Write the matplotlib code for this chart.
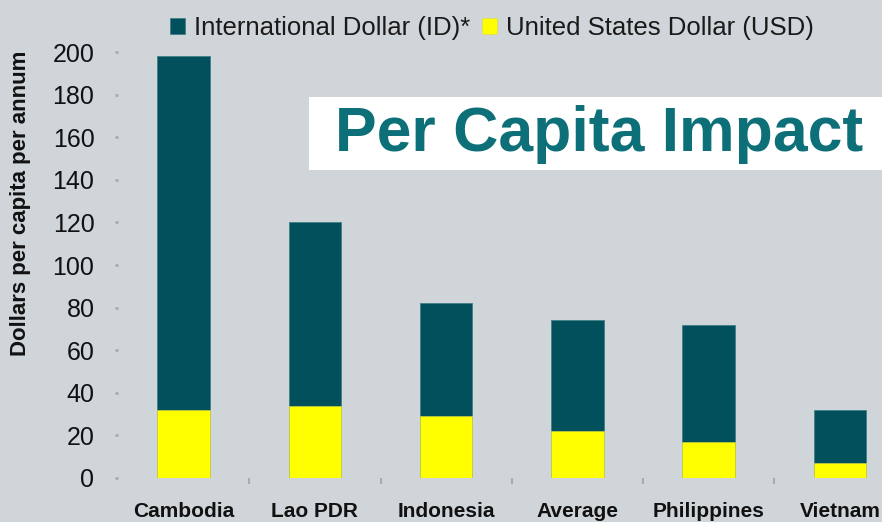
import matplotlib.pyplot as plt
from matplotlib.patches import Rectangle

countries = ['Cambodia', 'Lao PDR', 'Indonesia', 'Average', 'Philippines', 'Vietnam']
id_values = [198, 120, 82, 74, 72, 32]
usd_values = [32, 34, 29, 22, 17, 7]
y_ticks = [0, 20, 40, 60, 80, 100, 120, 140, 160, 180, 200]

bg = '#cfd5d8'
teal = '#02505c'
yellow = '#ffff00'

plt.rcParams['font.family'] = ['Liberation Sans', 'DejaVu Sans']

fig = plt.figure(figsize=(8.82, 5.22), dpi=100, facecolor=bg)
ax = fig.add_axes([0.1338, 0.0843, 0.893, 0.816], facecolor=bg)

x = range(len(countries))
ax.bar(x, id_values, width=0.40, color=teal, edgecolor='#3f7f86', linewidth=0.6,
       label='International Dollar (ID)*', zorder=2)
ax.bar(x, usd_values, width=0.40, color=yellow, edgecolor='#d8d84a', linewidth=0.4,
       label='United States Dollar (USD)', zorder=3)

ax.set_xlim(-0.5, len(countries) - 0.5)
ax.set_ylim(0, 200)
ax.set_yticks(y_ticks)
ax.set_xticks(list(x))
ax.set_xticklabels(countries, fontsize=15, fontweight='bold', color='#111111')
ax.set_xticks([i + 0.5 for i in range(len(countries) - 1)], minor=True)
ax.tick_params(axis='x', which='major', length=0, pad=17)
ax.tick_params(axis='x', which='minor', length=4, width=1.5, color='#a8acae')
ax.tick_params(axis='y', length=2, width=2, color='#a8acae', pad=15,
               labelsize=18, labelcolor='#111111')
for s in ax.spines.values():
    s.set_visible(False)

ax.set_ylabel('Dollars per capita per annum', fontsize=16, fontweight='bold',
              color='#111111')
ax.yaxis.set_label_coords(-0.111, 0.645)

leg = fig.legend(loc='upper left', bbox_to_anchor=(0.166, 1.014), ncol=2,
                 frameon=False, fontsize=18.5, handlelength=0.6, handleheight=0.6,
                 handletextpad=0.35, columnspacing=0.45, labelcolor='#1a1a1a')

# title box
fig.patches.append(Rectangle((309 / 882, 1 - 170 / 522), 0.7, 73 / 522,
                             transform=fig.transFigure, facecolor='white',
                             edgecolor='none', zorder=5))
fig.text(335 / 882, 1 - 134 / 522, 'Per Capita Impact', fontsize=45,
         fontweight='bold', color='#0d6f78', va='center', ha='left', zorder=6)

fig.savefig('out.png', dpi=100, facecolor=bg)
